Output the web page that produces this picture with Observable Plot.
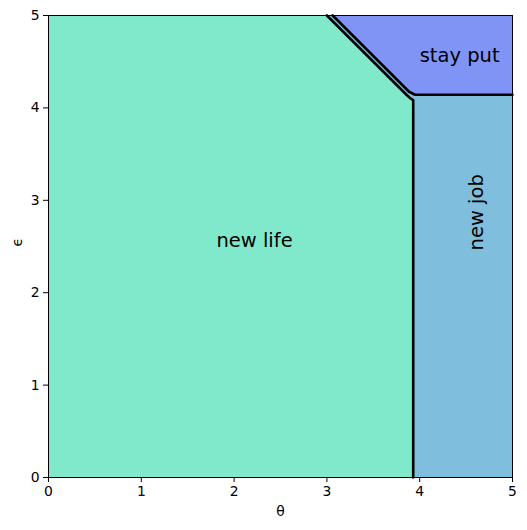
<!DOCTYPE html>
<html>
<head>
<meta charset="utf-8">
<script src="https://cdn.jsdelivr.net/npm/d3@7"></script>
<script src="https://cdn.jsdelivr.net/npm/@observablehq/plot@0.6"></script>
<style>
  body { margin: 0; background: #fff; }
  #chart svg { display: block; }
</style>
</head>
<body>
<div id="chart"></div>
<script>
// Axis ticks
const ticks = [0, 1, 2, 3, 4, 5];

// Boundary of the "new life" region (diagonal then vertical)
const lifeX = [3.0, 3.86, 3.905, 3.93, 3.93];
const lifeY = [5.0, 4.14, 4.10, 4.085, 0.0];

// Boundary of the "stay put" region (diagonal then horizontal)
const stayX = [3.062, 3.885, 3.95, 5.0];
const stayY = [5.0, 4.175, 4.142, 4.142];

// Region labels
const regionNames = ["new life", "new job", "stay put"];
const regionX = [2.22, 4.61, 4.43];
const regionY = [2.565, 2.87, 4.56];
const regionRotate = [0, -90, 0];
const regionColors = ["#81e9cb", "#7fbedc", "#8094f5"];

const lifePoly = [{x: 0, y: 5}].concat(lifeX.slice(0, 4).map((x, i) => ({x, y: lifeY[i]})));
const stayPoly = stayX.map((x, i) => ({x, y: stayY[i]}));
const lifeLine = lifeX.map((x, i) => ({x, y: lifeY[i]}));
const stayLine = stayX.map((x, i) => ({x, y: stayY[i]}));
const labels = regionNames.map((name, i) => ({name, x: regionX[i], y: regionY[i], r: regionRotate[i]}));

const chart = Plot.plot({
  width: 527,
  height: 530,
  marginLeft: 48,
  marginRight: 15,
  marginTop: 15,
  marginBottom: 53,
  style: {fontFamily: "DejaVu Sans", fontSize: "13.9px", color: "black", background: "white"},
  x: {domain: [0, 5], label: null},
  y: {domain: [0, 5], label: null},
  marks: [
    Plot.frame({fill: regionColors[1], stroke: null}),
    Plot.areaY(lifePoly, {x: "x", y1: 0, y2: "y", fill: regionColors[0], curve: "linear"}),
    Plot.areaY(stayPoly, {x: "x", y1: "y", y2: 5, fill: regionColors[2], curve: "linear"}),
    Plot.line(lifeLine, {x: "x", y: "y", stroke: "black", strokeWidth: 2.6}),
    Plot.line(stayLine, {x: "x", y: "y", stroke: "black", strokeWidth: 2.6}),
    Plot.text(labels.filter(d => d.r === 0), {x: "x", y: "y", text: "name", fontSize: 19.5, fill: "black"}),
    Plot.text(labels.filter(d => d.r !== 0), {x: "x", y: "y", text: "name", fontSize: 19.5, fill: "black", rotate: -90}),
    Plot.frame({stroke: "black", strokeWidth: 1}),
    Plot.axisX({ticks, tickSize: 5, tickPadding: 4, tickFormat: d3.format("d"), label: null}),
    Plot.axisY({ticks, tickSize: 5, tickPadding: 4, tickFormat: d3.format("d"), label: null}),
    Plot.text(["θ"], {frameAnchor: "bottom", dy: 38, text: d => d, fontSize: 13.9, fill: "black"}),
    Plot.text(["ϵ"], {frameAnchor: "left", dx: -31, rotate: -90, text: d => d, fontSize: 13.9, fill: "black"})
  ]
});
document.getElementById("chart").appendChild(chart);
</script>
</body>
</html>
